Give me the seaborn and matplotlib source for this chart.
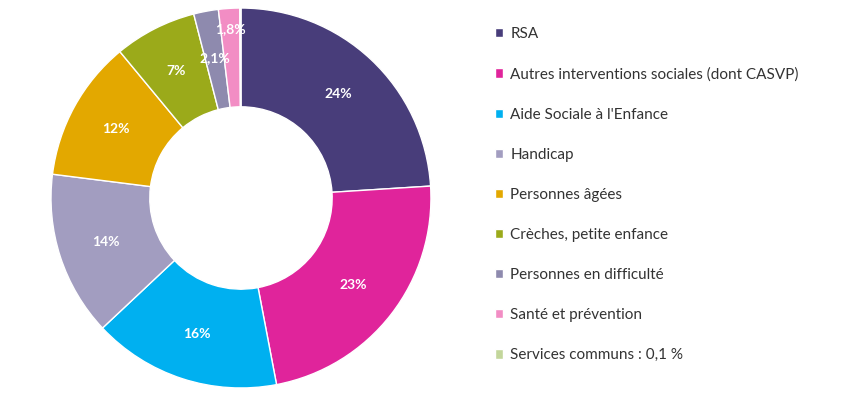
import numpy as np
import matplotlib
matplotlib.use("Agg")
import matplotlib.pyplot as plt
import seaborn as sns

# budget shares (%)
categories = ["RSA", "Autres interventions sociales (dont CASVP)", "Aide Sociale à l'Enfance",
              "Handicap", "Personnes âgées", "Crèches, petite enfance",
              "Personnes en difficulté", "Santé et prévention", "Services communs : 0,1 %"]
values = [24, 23, 16, 14, 12, 7, 2.1, 1.8, 0.1]
labels = ["24%", "23%", "16%", "14%", "12%", "7%", "2,1%", "1,8%", ""]
colors = ["#483d7a", "#e0249b", "#00b0f0", "#a29dc0", "#e3a800",
          "#9baa1a", "#8e8aae", "#f28dc4", "#c3d69b"]

sns.set_theme(style="white")
plt.rcParams['font.family'] = ['Lato', 'DejaVu Sans']

fig = plt.figure(figsize=(8.5, 4.04), dpi=100)
ax = fig.add_axes([0.06, 0.0396, 0.447, 0.9406])

wedges, _ = ax.pie(values, colors=sns.color_palette(colors), startangle=90, counterclock=False,
                   radius=1.0, wedgeprops=dict(width=0.52, edgecolor="white", linewidth=1))

# labels in the middle of the ring, small slices pushed a bit
for w, lab, v in zip(wedges, labels, values):
    if not lab:
        continue
    ang = np.deg2rad((w.theta1 + w.theta2) / 2)
    r = 0.75
    if v < 2:
        r = 0.89
    ax.text(r * np.cos(ang), r * np.sin(ang), lab, ha="center", va="center",
            color="white", fontsize=10, fontweight="bold")
ax.set_xlim(-1, 1)
ax.set_ylim(-1, 1)
ax.set_aspect("equal")

fig.legend(wedges, categories, loc="upper left", bbox_to_anchor=(495 / 850, 1 - 27 / 404),
           frameon=False, fontsize=11, handlelength=0.55, handleheight=0.55,
           handletextpad=0.45, labelspacing=1.71, borderpad=0, borderaxespad=0,
           labelcolor="#333333")

fig.savefig("out.png", dpi=100)
